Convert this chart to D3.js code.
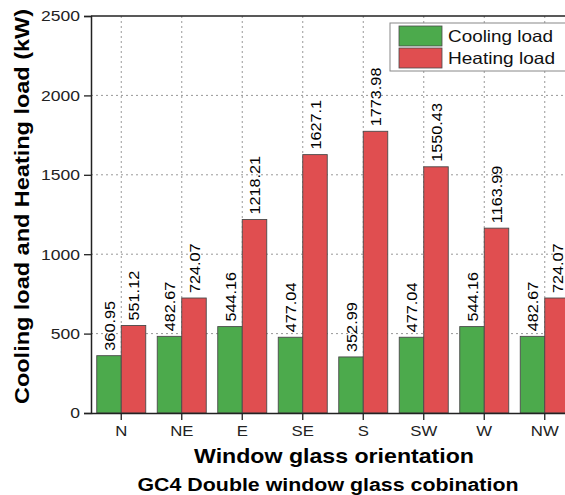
<!DOCTYPE html>
<html><head><meta charset="utf-8">
<script src="https://cdn.jsdelivr.net/npm/d3@7"></script>
<style>body{margin:0;background:#fff}svg{display:block;font-family:Arial,"Liberation Sans",sans-serif}</style>
</head><body><svg id="c" width="565" height="495"></svg>
<script>
const categories = ["N","NE","E","SE","S","SW","W","NW"];
const coolingLoad = [360.95,482.67,544.16,477.04,352.99,477.04,544.16,482.67];
const heatingLoad = [551.12,724.07,1218.21,1627.1,1773.98,1550.43,1163.99,724.07];
const coolingLabels = ["360.95","482.67","544.16","477.04","352.99","477.04","544.16","482.67"];
const heatingLabels = ["551.12","724.07","1218.21","1627.1","1773.98","1550.43","1163.99","724.07"];
const yTicks = [0,500,1000,1500,2000,2500];
const seriesNames = ["Cooling load","Heating load"];
const colors = ["#4caa4c","#e04e50"];

function stretch(sel, f){
  sel.each(function(){
    const n = this.getComputedTextLength();
    d3.select(this).attr("textLength", n*f).attr("lengthAdjust","spacingAndGlyphs");
  });
}

const svg = d3.select("#c");
const L = 91, T = 16, B = 413, R = 575;
const x = d3.scaleBand().domain(categories).range([L, R]).padding(0);
const y = d3.scaleLinear().domain([0,2500]).range([B, T]);
const bw = 24.5;

// grid
const g = svg.append("g");
g.selectAll(".hg").data(yTicks.filter(d=>d>0&&d<2500)).join("line")
  .attr("x1",L).attr("x2",R).attr("y1",d=>y(d)).attr("y2",d=>y(d))
  .attr("stroke","#999").attr("stroke-dasharray","2,3").attr("stroke-width",1);
g.selectAll(".vg").data(categories).join("line")
  .attr("x1",d=>x(d)+x.bandwidth()/2).attr("x2",d=>x(d)+x.bandwidth()/2)
  .attr("y1",T).attr("y2",B)
  .attr("stroke","#999").attr("stroke-dasharray","2,3").attr("stroke-width",1);

// bars
const series = [coolingLoad, heatingLoad];
const labels = [coolingLabels, heatingLabels];
series.forEach((vals, si) => {
  const off = si === 0 ? -bw : 0;
  svg.append("g").selectAll("rect").data(vals).join("rect")
    .attr("x",(d,i)=>x(categories[i])+x.bandwidth()/2+off)
    .attr("width",bw)
    .attr("y",d=>y(d)).attr("height",d=>B-y(d))
    .attr("fill",colors[si]).attr("stroke","#4a4a4a").attr("stroke-width",0.9);
  const t = svg.append("g").selectAll("text").data(vals).join("text")
    .attr("transform",(d,i)=>`translate(${x(categories[i])+x.bandwidth()/2+off+bw/2+5.5},${y(d)-5}) rotate(-90)`)
    .attr("font-size",14.5).attr("fill","#000")
    .text((d,i)=>labels[si][i]);
  stretch(t, 1.12);
});

// axes
const yAxis = d3.axisLeft(y).tickValues(yTicks).tickFormat(d3.format("d")).tickSize(7).tickPadding(4);
const ya = svg.append("g").attr("transform",`translate(${L},0)`).call(yAxis);
ya.selectAll("text").attr("font-size",15.5).attr("fill","#222").attr("font-family","Arial, Liberation Sans, sans-serif");
ya.select(".domain").attr("stroke","#222").attr("stroke-width",1.5);
ya.selectAll(".tick line").attr("stroke","#222").attr("stroke-width",1.3);
stretch(ya.selectAll("text"), 1.13);

const xAxis = d3.axisBottom(x).tickSize(7).tickPadding(5).tickSizeOuter(0);
const xa = svg.append("g").attr("transform",`translate(0,${B})`).call(xAxis);
xa.selectAll("text").attr("font-size",15.5).attr("fill","#222").attr("font-family","Arial, Liberation Sans, sans-serif");
xa.select(".domain").attr("stroke","#222").attr("stroke-width",1.5);
xa.selectAll(".tick line").attr("stroke","#222").attr("stroke-width",1.3);
stretch(xa.selectAll("text"), 1.08);

// top border
svg.append("line").attr("x1",L).attr("x2",R).attr("y1",T).attr("y2",T).attr("stroke","#222").attr("stroke-width",1.5);

// titles
svg.append("text").attr("transform",`translate(29,${(T+B)/2-8}) rotate(-90)`)
  .attr("text-anchor","middle").attr("font-weight","bold").attr("font-size",21).attr("fill","#000")
  .attr("textLength",395).attr("lengthAdjust","spacingAndGlyphs")
  .text("Cooling load and Heating load (kW)");
svg.append("text").attr("x",334).attr("y",463).attr("text-anchor","middle")
  .attr("font-weight","bold").attr("font-size",21).attr("fill","#000")
  .attr("textLength",280).attr("lengthAdjust","spacingAndGlyphs")
  .text("Window glass orientation");
svg.append("text").attr("x",328).attr("y",491).attr("text-anchor","middle")
  .attr("font-weight","bold").attr("font-size",17.5).attr("fill","#000")
  .attr("textLength",381).attr("lengthAdjust","spacingAndGlyphs")
  .text("GC4 Double window glass cobination");

// legend
const lg = svg.append("g");
lg.append("rect").attr("x",390).attr("y",23).attr("width",190).attr("height",48)
  .attr("fill","#fff").attr("stroke","#888").attr("stroke-width",1);
seriesNames.forEach((n,i)=>{
  lg.append("rect").attr("x",399).attr("y",26+i*22).attr("width",43).attr("height",20)
    .attr("fill",colors[i]).attr("stroke","#4a4a4a").attr("stroke-width",0.8);
  lg.append("text").attr("x",448).attr("y",42+i*22).attr("font-size",16.5).attr("fill","#111")
    .attr("textLength",i===0?105:107).attr("lengthAdjust","spacingAndGlyphs").text(n);
});
</script></body></html>
